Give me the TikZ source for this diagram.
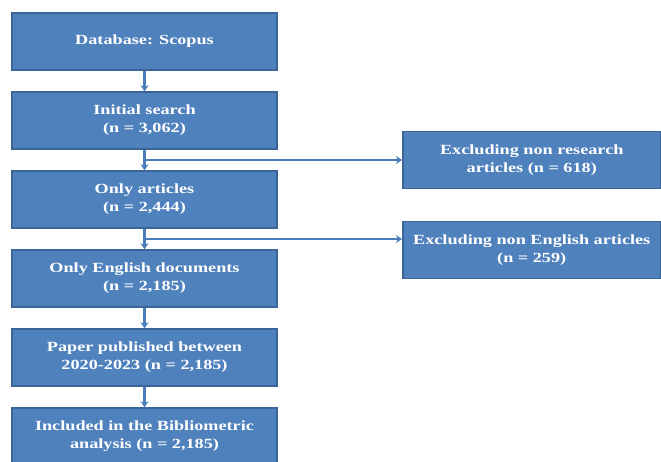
\documentclass[tikz,border=0pt]{standalone}
\usepackage{fontspec}
\setmainfont{Liberation Serif}[FakeStretch=1.3]
\usetikzlibrary{positioning,calc,arrows.meta}
\definecolor{boxblue}{HTML}{4F81BD}
\definecolor{boxline}{HTML}{3A6596}
\definecolor{arrowblue}{HTML}{4A7EBB}

\begin{document}
\begin{tikzpicture}[->,>={Stealth[length=6pt,width=8pt]},x=1pt,y=1pt,node distance=79pt,
		flowbox/.style={rectangle,draw=boxline,fill=boxblue,line width=1.5pt,text=white,
			font=\bfseries\fontsize{14}{18}\selectfont,align=center,
			minimum width=265pt,minimum height=57pt,inner sep=0pt},
		sidebox/.style={flowbox,minimum width=258pt},
		link/.style={draw=arrowblue,line width=2.4pt}]
		\useasboundingbox (0,0) rectangle (661,-461);
		% main path
		\node[flowbox] (db) at (144.5,-41.5) {Database: Scopus};
		\node[flowbox] (init) [below of=db] {Initial search\\(n = 3,062)};
		\node[flowbox] (art) [below of=init] {Only articles\\(n = 2,444)};
		\node[flowbox] (eng) [below of=art] {Only English documents\\(n = 2,185)};
		\node[flowbox] (year) [below of=eng] {Paper published between\\2020-2023 (n = 2,185)};
		\node[flowbox] (incl) [below of=year] {Included in the Bibliometric\\analysis (n = 2,185)};
		% exclusions
		\coordinate (j1) at ($(init.south)!0.5!(art.north)$);
		\coordinate (j2) at ($(art.south)!0.5!(eng.north)$);
		\node[sidebox] (excl1) [right=257.5pt of j1] {Excluding non research\\articles (n = 618)};
		\node[sidebox] (excl2) [right=257.5pt of j2, yshift=-11pt] {Excluding non English articles\\(n = 259)};
		\path[->]
		(db) edge[link] (init)
		(init) edge[link] (art)
		(art) edge[link] (eng)
		(eng) edge[link] (year)
		(year) edge[link] (incl)
		(j1) edge[link] (excl1.west)
		(j2) edge[link] (j2 -| excl2.west);
\end{tikzpicture}
\end{document}
